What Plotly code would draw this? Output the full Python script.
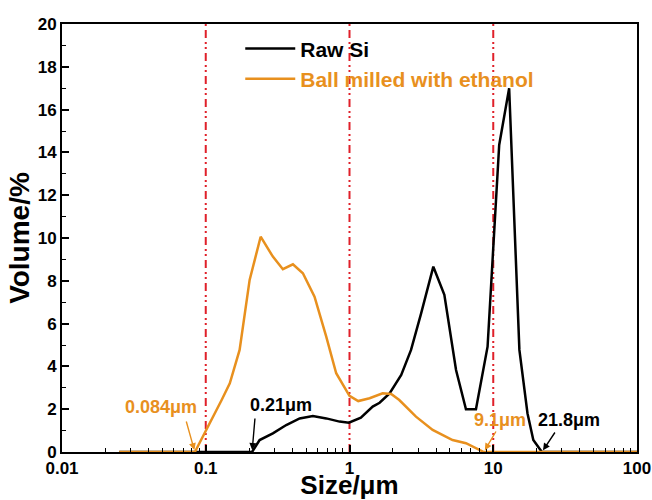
import math
import plotly.graph_objects as go

# Raw Si particle size distribution
raw_size = [0.025, 0.21, 0.237, 0.293, 0.363, 0.45, 0.556, 0.689, 0.853, 0.99,
            1.2, 1.45, 1.62, 1.9, 2.29, 2.68, 3.15, 3.83, 4.57, 5.51, 6.46, 7.58,
            9.13, 11.0, 12.9, 15.2, 17.3, 19.0, 21.8, 100]
raw_vol = [0, 0, 0.56, 0.87, 1.26, 1.57, 1.68, 1.57, 1.42, 1.37,
           1.6, 2.12, 2.3, 2.74, 3.6, 4.77, 6.48, 8.66, 7.34, 3.83, 2.0, 2.0,
           4.92, 14.35, 17.0, 4.77, 1.81, 0.56, 0, 0]

# Ball milled with ethanol
bm_size = [0.025, 0.084, 0.129, 0.147, 0.172, 0.202, 0.241, 0.293, 0.344, 0.404,
           0.474, 0.571, 0.689, 0.808, 1.0, 1.15, 1.38, 1.7, 1.95, 2.22, 2.9,
           3.79, 5.21, 6.46, 8.6, 100]
bm_vol = [0, 0, 2.43, 3.21, 4.77, 8.04, 10.06, 9.13, 8.54, 8.77,
          8.35, 7.26, 5.39, 3.68, 2.62, 2.38, 2.51, 2.74, 2.71, 2.43, 1.65,
          1.03, 0.56, 0.41, 0, 0]

ref_lines = [0.1, 1, 10]

# size labels: text, point the arrow marks, colour
label_text = ["0.084μm", "0.21μm", "9.1μm", "21.8μm"]
label_at = [0.084, 0.21, 8.6, 21.8]
label_color = ["#E8901E", "#000000", "#E8901E", "#000000"]
# text offset (px) from the marked point, arrow tail offset (px) from it
label_shift = [(-34, 45), (29, 47), (16, 32), (27, 32)]
arrow_tail = [(-9, -32), (3, -35), (13, -22), (14, -21)]

x_ticks = [0.01, 0.1, 1, 10, 100]
x_ticktext = ["0.01", "0.1", "1", "10", "100"]
x_minor = [m * 10 ** e for e in range(-2, 2) for m in range(2, 10)]

BLACK = "#000000"
ORANGE = "#E8901E"
RED = "#E0202A"
FONT = "Arial, Liberation Sans, sans-serif"

fig = go.Figure()
fig.add_trace(go.Scatter(x=raw_size, y=raw_vol, mode="lines", name="Raw Si",
                         line=dict(color=BLACK, width=2.5)))
fig.add_trace(go.Scatter(x=bm_size, y=bm_vol, mode="lines",
                         name="<span style='color:#E8901E'>Ball milled with ethanol</span>",
                         line=dict(color=ORANGE, width=2.5)))

for xv in ref_lines:
    fig.add_vline(x=xv, line=dict(color=RED, width=2, dash="8px,4px,2px,3px,2px,4px"),
                  layer="below")

for text, xv, col, (sx, sy), (ax, ay) in zip(label_text, label_at, label_color,
                                             label_shift, arrow_tail):
    lx = math.log10(xv)
    fig.add_annotation(x=lx, y=0, xref="x", yref="y", text="",
                       showarrow=True, arrowhead=2, arrowsize=1, arrowwidth=1.4,
                       arrowcolor=col, ax=ax, ay=ay, standoff=2)
    fig.add_annotation(x=lx, y=0, xref="x", yref="y", text=f"<b>{text}</b>",
                       showarrow=False, xshift=sx, yshift=sy,
                       font=dict(family=FONT, size=18, color=col))

fig.update_layout(
    width=652, height=500,
    margin=dict(l=62, r=15, t=24, b=48),
    paper_bgcolor="white", plot_bgcolor="white",
    font=dict(family=FONT, color=BLACK),
    showlegend=True,
    legend=dict(x=0.31, y=0.99, xanchor="left", yanchor="top",
                bgcolor="rgba(0,0,0,0)", borderwidth=0,
                font=dict(family=FONT, size=21, color=BLACK, weight="bold"),
                itemwidth=50, tracegroupgap=0),
    xaxis=dict(type="log", range=[-2, 2], tickvals=x_ticks, ticktext=x_ticktext,
               automargin=False,
               ticks="inside", ticklen=7, tickwidth=1.5, tickcolor=BLACK,
               minor=dict(ticks="inside", tickmode="array", tickvals=x_minor,
                          ticklen=4, tickwidth=1.2, tickcolor=BLACK, showgrid=False),
               showline=True, linecolor=BLACK, linewidth=2, mirror=True,
               showgrid=False, zeroline=False,
               tickfont=dict(family=FONT, size=17, color=BLACK, weight="bold"),
               title=dict(text="<b>Size/μm</b>", standoff=2,
                          font=dict(family=FONT, size=26, color=BLACK))),
    yaxis=dict(range=[0, 20], dtick=2, automargin=False,
               ticks="inside", ticklen=7, tickwidth=1.5, tickcolor=BLACK,
               minor=dict(ticks="inside", dtick=1, ticklen=4, tickwidth=1.2,
                          tickcolor=BLACK, showgrid=False),
               showline=True, linecolor=BLACK, linewidth=2, mirror=True,
               showgrid=False, zeroline=False,
               tickfont=dict(family=FONT, size=17, color=BLACK, weight="bold"),
               title=dict(text="<b>Volume/%</b>", standoff=0,
                          font=dict(family=FONT, size=28, color=BLACK))),
)

# remove the page's default body margin so the 652x500 figure fills the window
fig.write_html("out.html",
               config={"displayModeBar": False},
               post_script="document.body.style.margin='0';"
                           "document.body.style.overflow='hidden';")
